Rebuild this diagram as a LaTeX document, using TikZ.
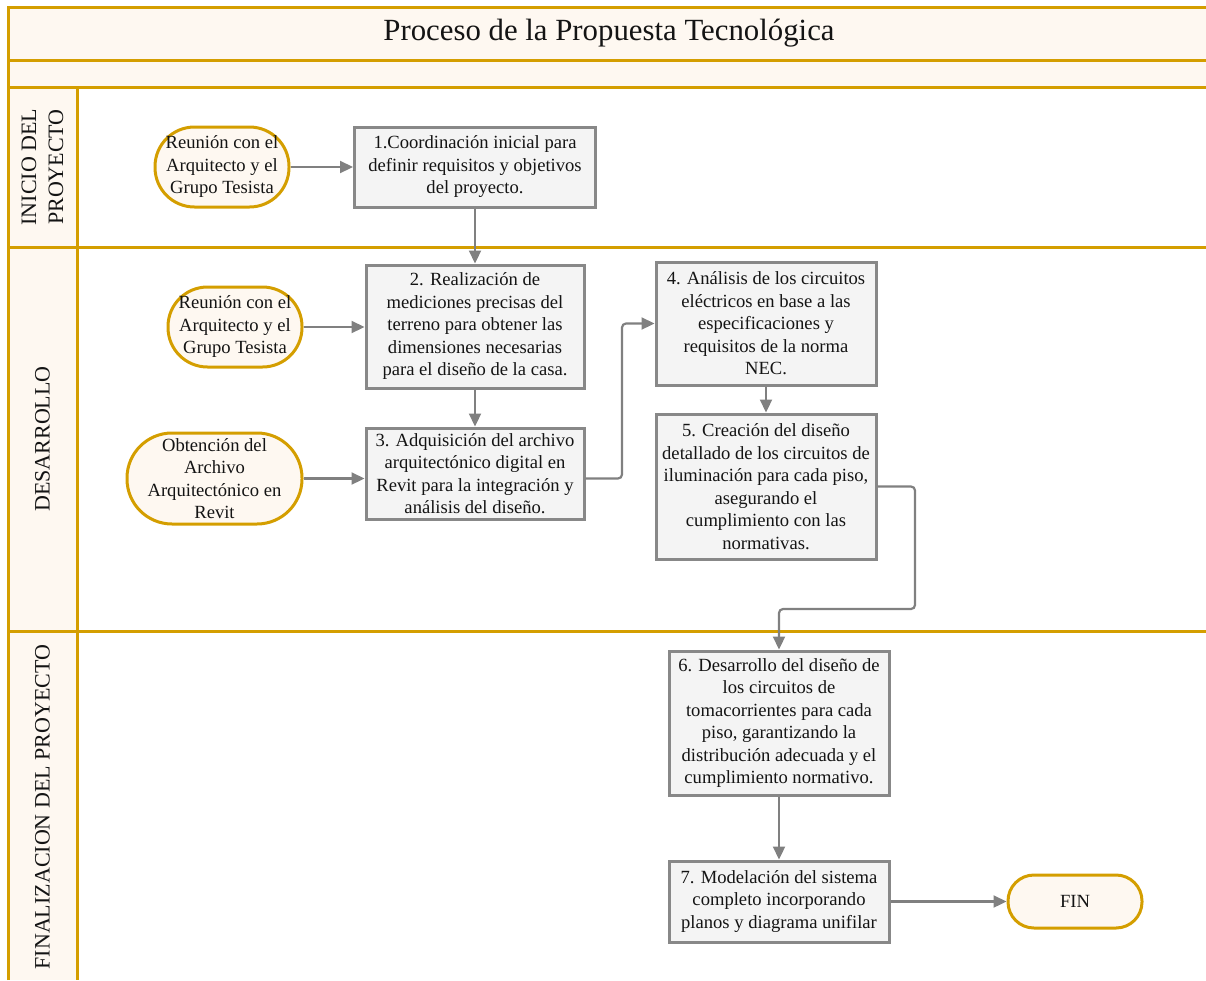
\documentclass[tikz,border=0pt]{standalone}
\usepackage{fontspec}
\setmainfont{Liberation Serif}
\usetikzlibrary{arrows.meta}
\definecolor{gold}{RGB}{212,158,0}
\definecolor{cream}{RGB}{254,248,241}
\definecolor{boxfill}{RGB}{244,244,244}
\definecolor{boxline}{RGB}{136,136,136}
\definecolor{arrowgray}{RGB}{128,128,128}
\definecolor{ink}{RGB}{20,20,20}
\begin{document}
\begin{tikzpicture}[x=1pt,y=-1pt,
  lane/.style={draw=gold,line width=3pt},
  txt/.style={font=\fontsize{18.6}{22.5}\selectfont,text=ink},
  stepbox/.style={txt,draw=boxline,fill=boxfill,line width=3pt,align=center,inner sep=0pt},
  pill/.style={txt,draw=gold,fill=cream,line width=3pt,align=center,inner sep=0pt},
  lanelabel/.style={rotate=90,font=\fontsize{22}{27}\selectfont,align=center,text=ink},
  conn/.style={draw=arrowgray,line width=2.2pt,-{Triangle[length=13pt,width=12pt]}},
]
\useasboundingbox (0,0) rectangle (1206,980);
% backgrounds
\fill[cream] (8,7) rectangle (1206,87);
\fill[cream] (8,87) rectangle (77,980);
% frame lines
\draw[lane] (8,980) -- (8,7) -- (1206,7);
\draw[lane] (8,60) -- (1206,60);
\draw[lane] (8,87) -- (1206,87);
\draw[lane] (8,247) -- (1206,247);
\draw[lane] (8,631) -- (1206,631);
\draw[lane] (77,87) -- (77,980);
% title and lane labels
\node[font=\fontsize{30.8}{37}\selectfont,text=ink] (title) at (609,33.5) {Proceso de la Propuesta Tecnológica};
\node[lanelabel] (L1) at (42.5,167) {INICIO DEL\\PROYECTO};
\node[lanelabel] (L2) at (42.5,439) {DESARROLLO};
\node[lanelabel] (L3) at (42.5,807) {FINALIZACION DEL PROYECTO};
% nodes
\node[pill,rounded corners=39.5pt,minimum width=134pt,minimum height=80pt] (R1) at (222,167) {Reunión con el\\Arquitecto y el\\Grupo Tesista};
\node[stepbox,minimum width=241pt,minimum height=80pt] (B1) at (475,167) {1.Coordinación inicial para\\definir requisitos y objetivos\\del proyecto.};
\node[pill,rounded corners=39.5pt,minimum width=134pt,minimum height=80pt] (R2) at (235,327) {Reunión con el\\Arquitecto y el\\Grupo Tesista};
\node[stepbox,minimum width=218pt,minimum height=123pt] (B2) at (475,326.5) {2. Realización de\\mediciones precisas del\\terreno para obtener las\\dimensiones necesarias\\para el diseño de la casa.};
\node[pill,rounded corners=45pt,minimum width=175pt,minimum height=91pt] (R3) at (214.5,478.5) {Obtención del\\Archivo\\Arquitectónico en\\Revit};
\node[stepbox,minimum width=218pt,minimum height=91pt] (B3) at (475,473.5) {3. Adquisición del archivo\\arquitectónico digital en\\Revit para la integración y\\análisis del diseño.};
\node[stepbox,minimum width=220pt,minimum height=123pt] (B4) at (766,323.5) {4. Análisis de los circuitos\\eléctricos en base a las\\especificaciones y\\requisitos de la norma\\NEC.};
\node[stepbox,minimum width=220pt,minimum height=145pt] (B5) at (766,486.5) {5. Creación del diseño\\detallado de los circuitos de\\iluminación para cada piso,\\asegurando el\\cumplimiento con las\\normativas.};
\node[stepbox,minimum width=220pt,minimum height=144pt] (B6) at (779,723) {6. Desarrollo del diseño de\\los circuitos de\\tomacorrientes para cada\\piso, garantizando la\\distribución adecuada y el\\cumplimiento normativo.};
\node[stepbox,minimum width=220pt,minimum height=81pt] (B7) at (779,901.5) {7. Modelación del sistema\\completo incorporando\\planos y diagrama unifilar};
\node[pill,rounded corners=26pt,minimum width=134pt,minimum height=53pt] (FIN) at (1075,901.5) {FIN};
% connectors
\coordinate (k1) at (622,400);
\coordinate (k2) at (915,609);
\draw[conn] (R1.east) -- (B1.west);
\draw[conn] (B1.south) -- (B2.north);
\draw[conn] (R2.east -| R2.east) -- (R2.east -| B2.west);
\draw[conn] (B2.south) -- (B3.north);
\draw[conn] (R3.east) -- (R3.east -| B3.west);
\draw[conn,rounded corners=4pt] (B3.east |- R3.east) -| (k1) |- (B4.west);
\draw[conn] (B4.south) -- (B5.north);
\draw[conn,rounded corners=4pt] (B5.east) -| (k2) -| (B6.north);
\draw[conn] (B6.south) -- (B7.north);
\draw[conn] (B7.east) -- (FIN.west);
\end{tikzpicture}
\end{document}
